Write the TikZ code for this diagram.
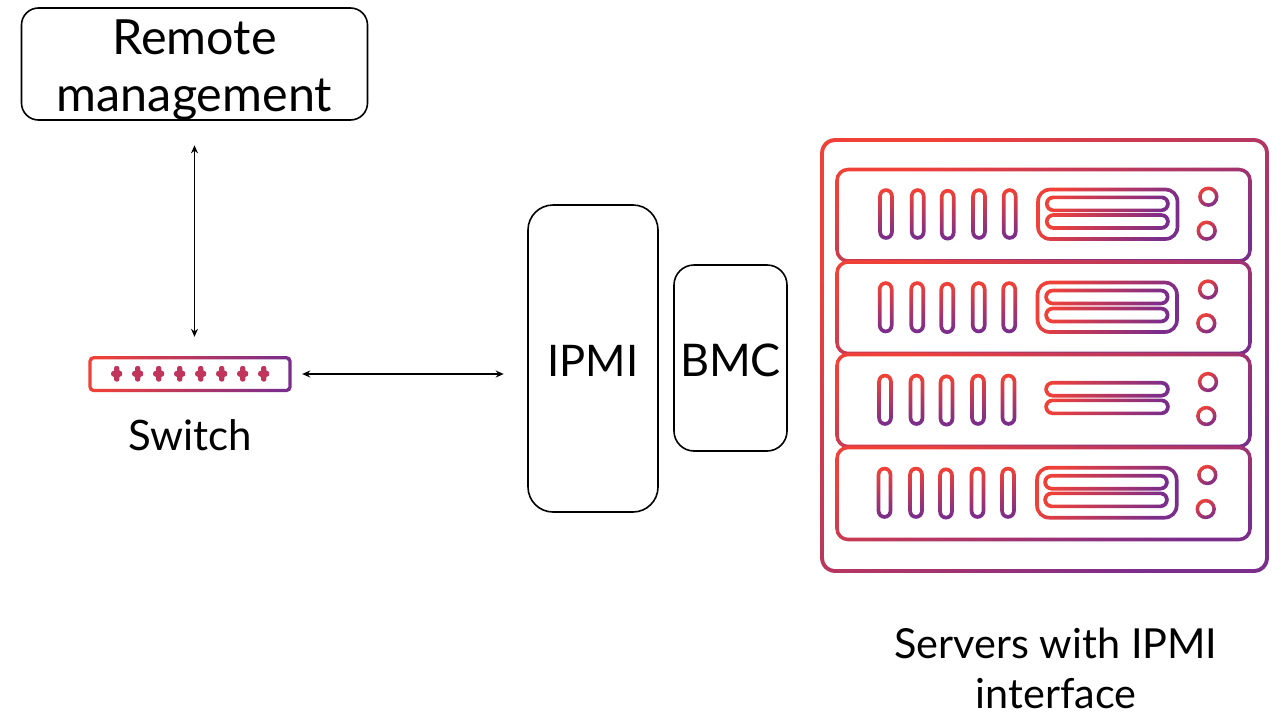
\documentclass[tikz,border=0pt]{standalone}
\usepackage{fontspec}
\setmainfont{Lato}
\usetikzlibrary{arrows.meta}
\definecolor{gA}{HTML}{EF4138}
\definecolor{gB}{HTML}{7B2D8B}
\definecolor{gM}{HTML}{C0355C}
\pgfdeclarehorizontalshading{grd}{100bp}{color(0bp)=(gA); color(25bp)=(gA); color(75bp)=(gB); color(100bp)=(gB)}
\newcommand{\gring}[7]{%
  \pgfmathsetmacro{\ax}{#1-#6/2}\pgfmathsetmacro{\ay}{#2-#6/2}%
  \pgfmathsetmacro{\bx}{#3+#6/2}\pgfmathsetmacro{\by}{#4+#6/2}%
  \pgfmathsetmacro{\cx}{#1+#6/2}\pgfmathsetmacro{\cy}{#2+#6/2}%
  \pgfmathsetmacro{\dx}{#3-#6/2}\pgfmathsetmacro{\dy}{#4-#6/2}%
  \pgfmathsetmacro{\ro}{#5+#6/2}\pgfmathsetmacro{\ri}{#5-#6/2}%
  \shade[even odd rule,shading=grd,shading angle=#7]
    [rounded corners=\ro pt] (\ax,\ay) rectangle (\bx,\by)
    [rounded corners=\ri pt] (\cx,\cy) rectangle (\dx,\dy);}
\newcommand{\gcirc}[3]{%
  \shade[even odd rule,shading=grd,shading angle=-60]
    (#1,#2) circle[radius=10.2pt] (#1,#2) circle[radius=6.6pt];}
\newcommand{\bars}[7]{%
  \gring{#1-6}{#6}{#1+6}{#7}{6}{3.6}{-80}\gring{#2-6}{#6}{#2+6}{#7}{6}{3.6}{-80}%
  \gring{#3-6}{#6+.7}{#3+6}{#7+.7}{6}{3.6}{-80}\gring{#4-6}{#6}{#4+6}{#7}{6}{3.6}{-80}%
  \gring{#5-6}{#6}{#5+6}{#7}{6}{3.6}{-80}}
\newcommand{\slot}[4]{\gring{#1}{#3}{#2}{#4}{6.5}{3.6}{-8}}
\newcommand{\blob}[1]{%
  \fill[gM,rounded corners=2pt] (#1-2.6,366) rectangle (#1+2.6,381.5);
  \fill[gM,rounded corners=2pt] (#1-5.5,371) rectangle (#1+5.5,376.5);
  \fill[gM] (#1,373.7) circle[radius=4.3pt];}
\tikzset{
  blackbox/.style={draw=black,line width=1.6pt,fill=none,align=center,inner sep=0pt,text=black},
  caption/.style={align=center,inner sep=0pt,text=black},
  link/.style={draw=black,line width=1.6pt,{Stealth[length=8pt,width=7pt]}-{Stealth[length=8pt,width=7pt]}},
}
\begin{document}
\begin{tikzpicture}[x=1pt,y=-1pt]
\useasboundingbox (0,0) rectangle (1281,712);
% rack
\gring{822}{140}{1267}{571}{13}{3.8}{-44}
\gring{837}{169.5}{1250}{261}{11}{3.6}{-68}
\gring{837}{262}{1250}{353.5}{11}{3.6}{-68}
\gring{837}{354.5}{1250}{446.5}{11}{3.6}{-68}
\gring{837}{447.5}{1250}{539.5}{11}{3.6}{-68}
% server 1
\bars{886}{917.7}{947.7}{979}{1009.7}{190}{238}
\gring{1038}{189.5}{1177.5}{239}{12}{3.6}{-30}
\slot{1046.7}{1168}{197.3}{210.3}\slot{1046.7}{1168}{215}{228}
\gcirc{1208.3}{196.7}{}\gcirc{1206.7}{230.7}{}
% server 2
\bars{885.7}{917.2}{947.2}{978.7}{1009.2}{283}{331.5}
\gring{1037.5}{282.5}{1177}{332}{12}{3.6}{-30}
\slot{1046}{1167.7}{290.5}{303.5}\slot{1046}{1167.7}{308.5}{321.5}
\gcirc{1208}{289.5}{}\gcirc{1206.3}{323.3}{}
% server 3
\bars{885}{916.5}{946.5}{978}{1008.5}{375.5}{424}
\slot{1046}{1168}{382.7}{395.7}\slot{1046}{1168}{400.3}{413.3}
\gcirc{1208}{382}{}\gcirc{1206.3}{416}{}
% server 4
\bars{884.5}{916}{946}{977.5}{1008}{468.5}{517}
\gring{1037}{467.7}{1176.7}{517.7}{12}{3.6}{-30}
\slot{1045}{1167}{475.7}{488.7}\slot{1045}{1167}{493.3}{506.3}
\gcirc{1207.3}{475}{}\gcirc{1205.7}{509}{}
% switch
\gring{90}{357.7}{290}{390.5}{3.5}{3.4}{-8}
\blob{116.7}\blob{137.7}\blob{158.7}\blob{179.7}\blob{200.7}\blob{221.7}\blob{242.7}\blob{263.7}
\node[minimum width=203pt,minimum height=36pt,inner sep=0pt] (sw) at (190,374) {};
% labelled boxes
\node[blackbox,rounded corners=17pt,minimum width=346pt,minimum height=112pt,font=\fontsize{48.5}{57}\selectfont] (remote) at (194.5,64) {\rule{0pt}{46pt}Remote\\management};
\node[blackbox,rounded corners=25pt,minimum width=130pt,minimum height=307pt,font=\fontsize{43.5}{51}\selectfont] (ipmi) at (593,358.5) {\rule{0pt}{36pt}IPMI};
\node[blackbox,rounded corners=20pt,minimum width=113pt,minimum height=186pt,font=\fontsize{45}{51}\selectfont] (bmc) at (730.5,358) {\rule{0pt}{37pt}BMC};
\node[caption,font=\fontsize{42}{51}\selectfont] (swl) at (190,435) {Switch};
\node[caption,font=\fontsize{41.4}{50}\selectfont] (srv) at (1056,668) {Servers with IPMI\\interface};
% connectors
\draw[link,shorten <=24.5pt,shorten >=19pt] (remote.south) -- (remote.south |- sw.north);
\draw[link,shorten <=10.5pt,shorten >=23.5pt] (sw.east |- 0,374) -- (ipmi.west |- 0,374);
\end{tikzpicture}
\end{document}
